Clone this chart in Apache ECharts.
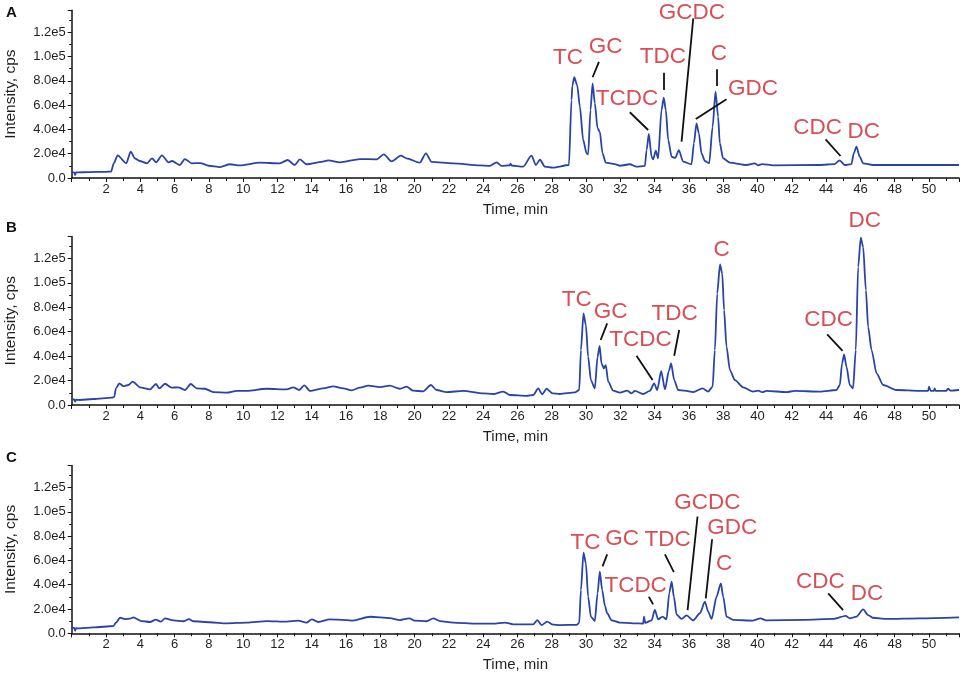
<!DOCTYPE html>
<html><head><meta charset="utf-8">
<script src="https://cdn.jsdelivr.net/npm/echarts@6/dist/echarts.min.js"></script>
<style>html,body{margin:0;padding:0;background:#fff}#chart{width:962px;height:675px}</style>
</head><body><div id="chart"></div>
<script>
// ---------- Panel A ----------
const timesA = [
  0, 0.15, 0.2, 0.25, 1.0, 2.0, 2.3, 2.45, 2.68, 3.18,
  3.44, 3.7, 3.96, 4.4, 4.68, 4.93, 5.26, 5.65, 5.85, 6.3,
  6.6, 7.0, 7.5, 8.0, 8.65, 9.23, 9.8, 10.98, 12.14, 12.6,
  13.0, 13.31, 13.7, 14.58, 14.96, 15.64, 16.81, 17.78, 18.2, 18.66,
  19.2, 19.53, 20.3, 20.66, 20.99, 22.25, 23.8, 24.39, 24.78, 25.07,
  25.55, 25.6, 25.65, 26.33, 26.82, 27.07, 27.31, 27.6, 28.06, 29.0,
  29.15, 29.2, 29.31, 29.48, 29.64, 29.83, 30.03, 30.12, 30.26, 30.38,
  30.51, 30.67, 30.8, 30.96, 31.15, 31.68, 31.97, 32.55, 32.94, 33.43,
  33.53, 33.66, 33.82, 33.91, 34.07, 34.2, 34.4, 34.53, 34.65, 34.79,
  34.99, 35.2, 35.41, 35.66, 36.15, 36.29, 36.44, 36.58, 36.73, 36.93,
  37.18, 37.38, 37.55, 37.7, 37.8, 37.99, 38.39, 39.36, 39.84, 40.04,
  40.27, 40.91, 43.63, 44.5, 44.79, 45.08, 45.48, 45.61, 45.77, 45.96,
  46.16, 46.74, 51.75
];
const intensityA = [
  4800, 4600, 2500, 4600, 4900, 5100, 5300, 12000, 18700, 12100,
  21600, 16000, 14000, 12100, 16200, 12900, 18700, 12900, 14000, 10700,
  15600, 12100, 12300, 10100, 9000, 11300, 10400, 12600, 12100, 14800,
  10700, 15300, 11300, 13200, 14500, 12900, 15600, 15400, 19500, 13700,
  18400, 16200, 12600, 20300, 13200, 12100, 10400, 10000, 12900, 10000,
  10500, 11800, 10300, 9300, 18400, 10700, 15000, 9300, 8500, 10700,
  64200, 76000, 82900, 76500, 58700, 31300, 20300, 19500, 56000, 77900,
  61500, 40900, 38100, 20300, 12600, 11500, 10100, 11300, 9300, 9900,
  23000, 36200, 17500, 15400, 22500, 16200, 56000, 66100, 56000, 31300,
  17500, 16500, 23000, 13400, 11300, 28600, 45000, 36800, 20300, 14000,
  12100, 42200, 71000, 50400, 28600, 16200, 12600, 10700, 12100, 10400,
  11500, 10400, 10700, 11500, 14500, 10700, 11500, 20300, 25800, 17500,
  12100, 10700, 10700
];
const peakNamesA = ['TC', 'GC', 'TCDC', 'TDC', 'GCDC', 'C', 'GDC', 'CDC', 'DC'];
const peakLabelTimeA = [28.94, 31.14, 32.38, 34.48, 36.17, 37.74, 39.73, 43.5, 46.2];
const peakLabelIntA = [98800, 107800, 65000, 99600, 135800, 102100, 73200, 41150, 37900];
const leadersA = [
  [30.75, 95500, 30.38, 82900], [32.55, 54100, 33.62, 39500], [34.55, 86700, 34.54, 72400],
  [36.25, 131400, 35.57, 29900], [37.64, 89500, 37.64, 75700], [38.19, 64800, 36.4, 48600],
  [43.97, 31800, 44.84, 18100]
];

// ---------- Panel B ----------
const timesB = [
  0, 0.15, 0.2, 0.25, 0.48, 1.26, 2.33, 2.48, 2.58, 2.78,
  3.01, 3.3, 3.56, 3.98, 4.57, 4.92, 5.11, 5.44, 5.83, 6.22,
  6.61, 6.94, 7.29, 7.77, 8.26, 9.04, 9.62, 10.2, 11.37, 12.54,
  12.92, 13.27, 13.56, 13.9, 14.67, 15.25, 15.84, 16.33, 16.81, 17.3,
  17.98, 18.56, 19.14, 19.53, 19.92, 20.5, 20.95, 21.28, 21.87, 22.83,
  24.0, 24.58, 25.17, 25.56, 26.53, 26.92, 27.21, 27.44, 27.7, 28.05,
  28.47, 29.35, 29.6, 29.7, 29.85, 29.99, 30.12, 30.28, 30.51, 30.67,
  30.79, 30.9, 31.04, 31.15, 31.29, 31.58, 31.97, 32.4, 32.65, 32.85,
  33.33, 33.72, 33.97, 34.15, 34.38, 34.6, 34.83, 34.96, 35.14, 35.37,
  35.76, 36.25, 36.79, 37.12, 37.38, 37.51, 37.65, 37.81, 37.94, 38.05,
  38.19, 38.39, 38.68, 39.16, 39.74, 40.04, 40.27, 40.52, 41.69, 42.17,
  43.63, 44.61, 44.8, 44.93, 45.05, 45.19, 45.38, 45.57, 45.73, 45.87,
  46.02, 46.16, 46.32, 46.45, 46.65, 46.94, 47.33, 48.1, 49.46, 49.95,
  50.0, 50.1, 50.28, 50.33, 50.4, 51.0, 51.11, 51.25, 51.75
];
const intensityB = [
  4700, 4500, 2700, 4300, 4100, 4900, 6000, 6500, 13600, 17700,
  15500, 16400, 19100, 14500, 12800, 17200, 13600, 17400, 14200, 14500,
  12300, 17200, 13600, 13300, 10600, 10100, 11500, 11500, 13300, 12800,
  14500, 12300, 16100, 11500, 13600, 15300, 13600, 12000, 14200, 15800,
  14700, 15800, 13300, 15000, 11700, 11200, 16400, 12300, 10600, 11500,
  9500, 9000, 11000, 8200, 7400, 8200, 13600, 8700, 13300, 9500,
  9000, 10300, 12300, 45000, 75000, 65400, 39500, 20400, 13600, 39500,
  48500, 34100, 30000, 32700, 19100, 11700, 10100, 11700, 9500, 11500,
  9000, 11500, 17700, 12300, 27800, 12800, 28000, 34100, 20400, 12300,
  11700, 10600, 13600, 11000, 15000, 45000, 91400, 115100, 107700, 77700,
  47700, 28600, 20400, 14500, 11000, 11700, 10500, 11500, 10600, 11500,
  11000, 12300, 16400, 34100, 41400, 31300, 16400, 13600, 45000, 113100,
  137000, 129500, 94100, 64000, 45000, 25900, 16400, 12300, 11500, 11500,
  15000, 11500, 11500, 13600, 11500, 11500, 13300, 11800, 12300
];
const peakNamesB = ['TC', 'GC', 'TCDC', 'TDC', 'C', 'CDC', 'DC'];
const peakLabelTimeB = [29.45, 31.43, 33.18, 35.16, 37.9, 44.15, 46.26];
const peakLabelIntB = [86500, 76300, 53200, 75000, 126800, 69500, 150500];
const leadersB = [
  [31.23, 66800, 30.85, 53200], [32.94, 40300, 33.88, 20500],
  [35.43, 61400, 35.14, 40300], [44.06, 57800, 44.96, 44400]
];

// ---------- Panel C ----------
const timesC = [
  0, 0.15, 0.2, 0.25, 0.48, 1.26, 2.43, 2.58, 2.82, 3.11,
  3.4, 3.59, 4.08, 4.57, 4.9, 5.2, 5.44, 5.93, 6.51, 6.84,
  7.1, 8.06, 9.04, 10.2, 11.37, 12.54, 13.21, 13.7, 14.0, 14.38,
  15.06, 16.03, 16.4, 17.4, 18.56, 19.14, 19.69, 20.0, 20.7, 21.09,
  21.48, 22.25, 23.62, 24.58, 25.27, 25.75, 26.92, 27.15, 27.4, 27.73,
  28.08, 28.47, 29.45, 29.6, 29.7, 29.85, 29.99, 30.12, 30.28, 30.51,
  30.67, 30.8, 30.94, 31.1, 31.23, 31.49, 31.97, 32.75, 33.33, 33.38,
  33.45, 33.82, 34.01, 34.2, 34.46, 34.69, 34.85, 34.99, 35.12, 35.28,
  35.57, 35.86, 36.25, 36.64, 36.93, 37.12, 37.32, 37.61, 37.86, 38.0,
  38.19, 38.58, 39.74, 40.17, 40.5, 42.66, 44.41, 45.15, 45.38, 45.77,
  46.16, 46.45, 46.74, 47.52, 49.46, 51.75
];
const intensityC = [
  4600, 4400, 2100, 4200, 4000, 4800, 6000, 8700, 12800, 11700,
  12000, 13100, 10100, 9300, 11200, 9600, 12300, 10700, 9900, 11700,
  9900, 9100, 8200, 8800, 10100, 9600, 10400, 8800, 11500, 9300,
  11500, 10900, 10400, 13600, 12500, 10900, 12300, 10400, 9900, 12300,
  10100, 8800, 7900, 7900, 8800, 7400, 7400, 10900, 6800, 9600,
  7100, 6800, 7000, 8600, 35600, 66300, 57600, 30100, 13700, 10100,
  32900, 50700, 35600, 22500, 16500, 10700, 8800, 8200, 8000, 13700,
  8500, 10700, 19200, 11500, 13700, 11500, 32900, 42500, 30100, 15300,
  11800, 14800, 10700, 16500, 26000, 17900, 11800, 30100, 41100, 30100,
  13700, 11000, 10500, 12300, 10700, 11000, 11800, 14300, 12300, 13700,
  19700, 15000, 12800, 11800, 12300, 13100
];
const peakNamesC = ['TC', 'GC', 'TCDC', 'TDC', 'GCDC', 'GDC', 'C', 'CDC', 'DC'];
const peakLabelTimeC = [29.97, 32.1, 32.89, 34.75, 37.08, 38.52, 38.05, 43.67, 46.39];
const peakLabelIntC = [74600, 77400, 38900, 76800, 107800, 87200, 57600, 42500, 32900];
const leadersC = [
  [31.23, 65000, 30.96, 55100], [33.66, 30100, 33.91, 23800], [34.6, 65000, 35.12, 50400],
  [36.5, 96100, 35.92, 19100], [37.35, 77400, 36.98, 28800], [44.12, 32900, 44.99, 19100]
];

// ---------- Axis tick labels ----------
const yTickLabels = ['0.0', '2.0e4', '4.0e4', '6.0e4', '8.0e4', '1.0e5', '1.2e5'];
const xTickLabels = ['', '2', '4', '6', '8', '10', '12', '14', '16', '18', '20', '22', '24', '26',
  '28', '30', '32', '34', '36', '38', '40', '42', '44', '46', '48', '50'];
const panelLetters = ['A', 'B', 'C'];

// ---------- Build ----------
const FONT = '"Liberation Sans", Arial, Helvetica, sans-serif';
const LINE_COLOR = '#2844a6';
const LABEL_COLOR = '#d0202a';
const panelData = [
  { t: timesA, v: intensityA, names: peakNamesA, lt: peakLabelTimeA, lv: peakLabelIntA, lead: leadersA },
  { t: timesB, v: intensityB, names: peakNamesB, lt: peakLabelTimeB, lv: peakLabelIntB, lead: leadersB },
  { t: timesC, v: intensityC, names: peakNamesC, lt: peakLabelTimeC, lv: peakLabelIntC, lead: leadersC }
];
const gridBox = [
  { top: 10.3, height: 167.7, letterTop: 5 },
  { top: 236.5, height: 168.5, letterTop: 220 },
  { top: 465.6, height: 167.7, letterTop: 450 }
];

function lookup(arr, v, step) {
  const i = v / step;
  if (Math.abs(i - Math.round(i)) > 1e-6) return '';
  const s = arr[Math.round(i)];
  return s === undefined ? '' : s;
}

const grids = [], xAxes = [], yAxes = [], series = [], graphics = [];
panelData.forEach((p, i) => {
  grids.push({ left: 71.7, right: 3, top: gridBox[i].top, height: gridBox[i].height,
    containLabel: false, outerBoundsMode: 'none' });
  xAxes.push({
    type: 'value', gridIndex: i, min: 0, max: 51.75, interval: 2,
    name: 'Time, min', nameLocation: 'middle', nameGap: 24,
    nameTextStyle: { fontSize: 15, color: '#231f20', fontFamily: FONT },
    axisLine: { show: true, lineStyle: { color: '#111', width: 1.5 } },
    axisTick: { show: true, inside: false, length: 4, lineStyle: { color: '#111', width: 1 } },
    minorTick: { show: true, splitNumber: 2, length: 3, lineStyle: { color: '#111', width: 1 } },
    splitLine: { show: false }, minorSplitLine: { show: false },
    axisLabel: { show: true, margin: 5, fontSize: 13, color: '#231f20', fontFamily: FONT,
      formatter: v => lookup(xTickLabels, v, 2) }
  });
  yAxes.push({
    type: 'value', gridIndex: i, min: 0, max: 138000, interval: 20000,
    name: 'Intensity, cps', nameLocation: 'middle', nameGap: 53,
    nameTextStyle: { fontSize: 15.5, color: '#231f20', fontFamily: FONT },
    axisLine: { show: true, lineStyle: { color: '#111', width: 1.5 } },
    axisTick: { show: true, inside: false, length: 4, lineStyle: { color: '#111', width: 1 } },
    minorTick: { show: true, splitNumber: 2, length: 2.5, lineStyle: { color: '#111', width: 1 } },
    splitLine: { show: false }, minorSplitLine: { show: false },
    axisLabel: { show: true, margin: 6, fontSize: 13, color: '#231f20', fontFamily: FONT,
      formatter: v => lookup(yTickLabels, v, 20000) }
  });
  series.push({
    type: 'line', xAxisIndex: i, yAxisIndex: i,
    data: p.t.map((t, k) => [t, p.v[k]]),
    showSymbol: false, smooth: 0.25, smoothMonotone: 'x',
    lineStyle: { color: LINE_COLOR, width: 1.8 },
    silent: true, animation: false, z: 2
  });
  series.push({
    type: 'scatter', xAxisIndex: i, yAxisIndex: i, clip: false,
    data: p.names.map((n, k) => ({ name: n, value: [p.lt[k], p.lv[k]] })),
    symbolSize: 1, itemStyle: { color: 'rgba(0,0,0,0)' },
    label: { show: true, position: 'inside', formatter: '{b}', color: LABEL_COLOR,
      fontSize: 22.5, fontFamily: FONT },
    silent: true, animation: false, z: 5,
    markLine: {
      silent: true, animation: false, symbol: ['none', 'none'],
      label: { show: false },
      lineStyle: { color: '#111', width: 1.8, type: 'solid' },
      data: p.lead.map(l => [{ coord: [l[0], l[1]] }, { coord: [l[2], l[3]] }])
    }
  });
  graphics.push({
    type: 'text', left: 6, top: gridBox[i].letterTop,
    style: { text: panelLetters[i], font: 'bold 15px ' + FONT, fill: '#111' }
  });
});

const chart = echarts.init(document.getElementById('chart'));
chart.setOption({
  backgroundColor: '#fff', animation: false,
  grid: grids, xAxis: xAxes, yAxis: yAxes, series: series, graphic: graphics
});
</script></body></html>
